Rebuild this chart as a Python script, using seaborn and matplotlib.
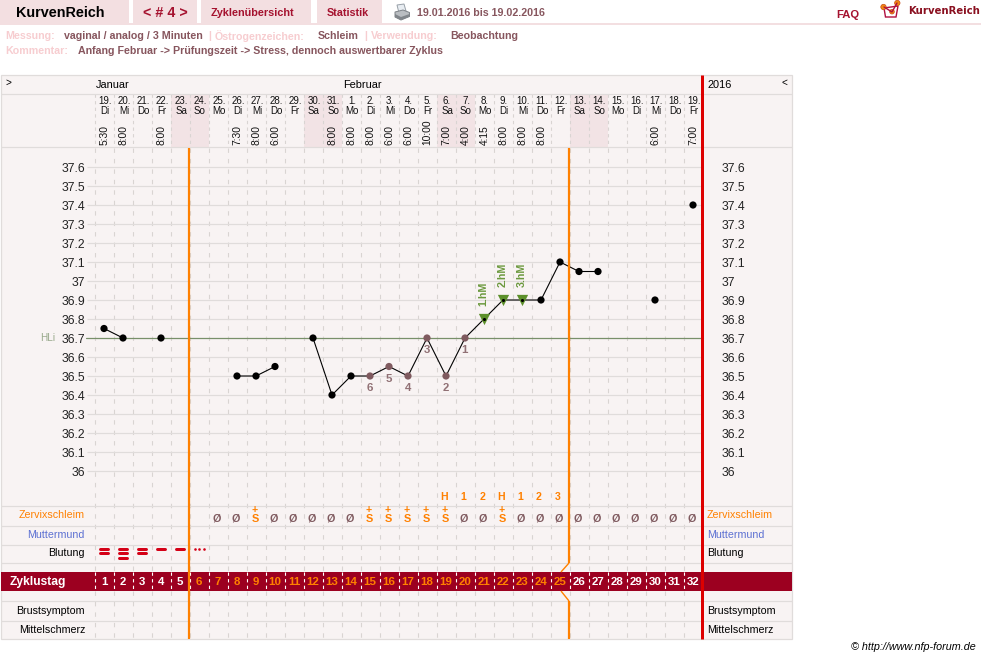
import matplotlib
matplotlib.use("Agg")
import matplotlib.pyplot as plt
from matplotlib.patches import Rectangle, Polygon, Circle
import pandas as pd
import seaborn as sns

# ---- cycle data -------------------------------------------------------
cycle_days = list(range(1, 33))
dates = ["19.", "20.", "21.", "22.", "23.", "24.", "25.", "26.", "27.", "28.", "29.", "30.", "31.",
         "1.", "2.", "3.", "4.", "5.", "6.", "7.", "8.", "9.", "10.", "11.", "12.", "13.", "14.",
         "15.", "16.", "17.", "18.", "19."]
weekdays = ["Di", "Mi", "Do", "Fr", "Sa", "So", "Mo", "Di", "Mi", "Do", "Fr", "Sa", "So",
            "Mo", "Di", "Mi", "Do", "Fr", "Sa", "So", "Mo", "Di", "Mi", "Do", "Fr", "Sa", "So",
            "Mo", "Di", "Mi", "Do", "Fr"]
times = ["5:30", "8:00", "", "8:00", "", "", "", "7:30", "8:00", "6:00", "", "", "8:00",
         "8:00", "8:00", "6:00", "6:00", "10:00", "7:00", "4:00", "4:15", "8:00", "8:00", "8:00", "",
         "", "", "", "", "6:00", "", "7:00"]
temp_days = [1, 2, 4, 8, 9, 10, 12, 13, 14, 15, 16, 17, 18, 19, 20, 21, 22, 23, 24, 25, 26, 27, 30, 32]
temp_values = [36.75, 36.7, 36.7, 36.5, 36.5, 36.55, 36.7, 36.4, 36.5, 36.5, 36.55, 36.5, 36.7,
               36.5, 36.7, 36.8, 36.9, 36.9, 36.9, 37.1, 37.05, 37.05, 36.9, 37.4]
temp_runs = [0, 0, 1, 2, 2, 2, 3, 3, 3, 3, 3, 3, 3, 3, 3, 3, 3, 3, 3, 3, 3, 3, 4, 5]
low_days = [20, 19, 18, 17, 16, 15]
low_labels = ["1", "2", "3", "4", "5", "6"]
high_days = [21, 22, 23]
high_labels = ["1.hM", "2.hM", "3.hM"]
cover_line = 36.7
temp_ticks = [36.0, 36.1, 36.2, 36.3, 36.4, 36.5, 36.6, 36.7, 36.8, 36.9,
              37.0, 37.1, 37.2, 37.3, 37.4, 37.5, 37.6]
temp_tick_labels = ["36", "36.1", "36.2", "36.3", "36.4", "36.5", "36.6", "36.7", "36.8", "36.9",
                    "37", "37.1", "37.2", "37.3", "37.4", "37.5", "37.6"]
weekend_days = [5, 6, 12, 13, 19, 20, 26, 27]
mucus_dry_days = [7, 8, 10, 11, 12, 13, 14, 20, 21, 23, 24, 25, 26, 27, 28, 29, 30, 31, 32]
mucus_plus_days = [9, 15, 16, 17, 18, 19, 22]
peak_days = [19, 20, 21, 22, 23, 24, 25]
peak_labels = ["H", "1", "2", "H", "1", "2", "3"]
bleeding_days = [1, 2, 3, 4, 5]
bleeding_strength = [2, 3, 2, 1, 1]
spotting_day = 6
first_phase_end = 5
second_phase_end = 25
row_names = ["Zervixschleim", "Muttermund", "Blutung", "Brustsymptom", "Mittelschmerz"]

# ---- palette ----------------------------------------------------------
PANEL = "#f8f3f3"
RULE = "#e0dcdb"
DASH = "#d9d4d2"
WEEKEND = "#f2e3e5"
TAB = "#f3dfe1"
DARKRED = "#9c0020"
TABTEXT = "#a5122f"
MUTED = "#87565e"
PALE = "#f7cdd0"
ORANGE = "#ff8000"
RED = "#dd0000"
LOW = "#7f5a5f"
GREEN = "#5c8f2a"
COVER = "#78906a"
BLUE = "#5c70d2"

sns.set_theme(style="white")
plt.rcParams["font.family"] = ["Liberation Sans", "DejaVu Sans"]

W, H = 981, 659
PX = 72 / 100  # points per pixel at 100 dpi
fig = plt.figure(figsize=(W / 100, H / 100), dpi=100, facecolor="white")

def px_rect(x0, y0, x1, y1):
    return [x0 / W, 1 - y1 / H, (x1 - x0) / W, (y1 - y0) / H]

# Page layer: pixel coordinates, used for the surrounding page furniture.
page = fig.add_axes([0, 0, 1, 1], zorder=0)
page.set_xlim(0, W)
page.set_ylim(H, 0)
page.axis("off")

DAY_W = 19.0
DAY1_X = 104.0
def day_x(d):
    return DAY1_X + (d - 1) * DAY_W

def txt(x, y, s, size=11, color="black", weight="normal", ha="left", va="center", **kw):
    return page.text(x, y, s, fontsize=size * PX, color=color, fontweight=weight, ha=ha, va=va, **kw)

# Top navigation strip
for x0, x1 in [(0, 129), (133, 197), (201, 311), (317, 382)]:
    page.add_patch(Rectangle((x0, 0), x1 - x0, 23, fc=TAB, ec="none"))
page.add_patch(Rectangle((0, 23), W, 2, fc=TAB, ec="none"))
txt(16, 13, "KurvenReich", 14.4, "black", "bold")
txt(143, 13, "< # 4 >", 14.3, TABTEXT, "bold")
txt(211, 12.5, "Zyklenübersicht", 10.9, TABTEXT, "bold")
txt(327, 12.5, "Statistik", 10.8, TABTEXT, "bold")
txt(417, 12.5, "19.01.2016 bis 19.02.2016", 10.6, MUTED, "bold")
txt(836, 15, "FAQ", 11.3, TABTEXT, "bold")
page.text(908, 10.5, "KurvenReich", fontsize=10.1 * PX, color="#8a1020", fontweight="bold",
          family="DejaVu Sans", ha="left", va="center")

# Printer icon
page.add_patch(Polygon([(397, 5), (404, 4), (406, 11), (399, 13)], fc="#e8edf2", ec="#98a0a8", lw=0.7))
page.add_patch(Polygon([(395, 12), (403, 10), (409.5, 12.5), (409.5, 16.5), (401, 20), (395, 17)],
                       fc="#b9bdc1", ec="#7d8287", lw=0.7))
page.add_patch(Polygon([(395, 14), (401, 17), (409.5, 14), (409.5, 16.5), (401, 20), (395, 17)],
                       fc="#80858a", ec="none"))

# Logo mark
page.add_patch(Polygon([(884, 8), (885.5, 17), (896, 17), (898, 6)], fc="white", ec="#b01040", lw=1.0))
page.plot([884, 892, 897], [7, 12, 3], color="#b01040", lw=1.0)
for cx, cy, r in [(883.5, 7, 2.7), (892, 11.7, 2.3), (897.3, 3, 2.7)]:
    page.add_patch(Circle((cx, cy), r, fc="#f08a10", ec="#c84a18", lw=0.5))

# Measurement summary lines
for x, s in [(5, "Messung:"), (208, "|"), (215, "Östrogenzeichen:"), (364, "|"), (371, "Verwendung:")]:
    txt(x, 36, s, 10.6, PALE, "bold")
for x, s in [(64, "vaginal / analog / 3 Minuten"), (318, "Schleim"), (450, "Beobachtung")]:
    txt(x, 36, s, 10.6, MUTED, "bold")
txt(5, 51, "Kommentar:", 10.6, PALE, "bold")
txt(78, 51, "Anfang Februar -> Prüfungszeit -> Stress, dennoch auswertbarer Zyklus", 10.6, MUTED, "bold")
txt(976, 647, "© http://www.nfp-forum.de", 10.7, "black", ha="right", style="italic")

# Panel, row rules and the cycle-day band
page.add_patch(Rectangle((1, 75), 791, 564, fc=PANEL, ec=RULE, lw=0.9))
for d in weekend_days:
    page.add_patch(Rectangle((day_x(d) - DAY_W / 2, 94), DAY_W, 53, fc=WEEKEND, ec="none"))
for y in [93.5, 147, 506, 525.5, 544.5, 563, 601, 620.5]:
    page.plot([1, 792], [y, y], color=RULE, lw=1.2 * PX, solid_capstyle="butt")
page.add_patch(Rectangle((1, 572), 791, 19, fc=DARKRED, ec="none", zorder=2))

# Dashed day separators through header, chart and rows
for d in cycle_days[:-1] + [0]:
    x = day_x(d) + DAY_W / 2
    page.plot([x, x], [94, 147], color=DASH, lw=1.1 * PX, ls=(0, (3, 3)), zorder=1.2)
    page.plot([x, x], [148, 572], color=DASH, lw=1.1 * PX, ls=(0, (4, 5.5)), zorder=1.2)
    page.plot([x, x], [572, 591], color="white", lw=1.1 * PX, ls=(0, (3, 3)), zorder=2.2)
    page.plot([x, x], [591, 639], color=DASH, lw=1.1 * PX, ls=(0, (4, 5.5)), zorder=1.2)

# Header texts
txt(5, 83, ">", 10)
txt(96, 85, "Januar", 11)
txt(343, 85, "Februar", 11)
txt(707, 85, "2016", 11)
txt(787, 83, "<", 10, ha="right")
for d, a, b, c in zip(cycle_days, dates, weekdays, times):
    x = day_x(d) + 1
    txt(x, 101.5, a, 9.8, "#111111", ha="center")
    txt(x, 111.5, b, 9.8, "#111111", ha="center")
    if c:
        page.text(x - 0.5, 145, c, fontsize=10.3 * PX, color="#111111", rotation=90,
                  ha="center", va="bottom")

# Row captions on both sides
captions = dict(zip(row_names, [(515, ORANGE), (534, BLUE), (553, "black"), (610, "black"), (629.5, "black")]))
for name, (y, col) in captions.items():
    txt(85, y + 0.5, name, 10.6, col, ha="right")
    txt(707, y + 0.5, name, 10.6, col)
txt(10, 582, "Zyklustag", 12, "white", "bold", zorder=3)

# Cycle day numbers inside the band
for d in cycle_days:
    col = ORANGE if first_phase_end < d <= second_phase_end else "white"
    txt(day_x(d), 582, str(d), 11.5, col, "bold", ha="center", zorder=3)

# Mucus row and peak counting row
for d in mucus_dry_days:
    txt(day_x(d) - 1, 518, "Ø", 10.8, LOW, "bold", ha="center")
for d in mucus_plus_days:
    txt(day_x(d) - 1, 519, "S", 11, ORANGE, "bold", ha="center")
    txt(day_x(d) - 1, 509.5, "+", 10.5, ORANGE, "bold", ha="center")
for d, s in zip(peak_days, peak_labels):
    txt(day_x(d) - 2, 497, s, 10.5, ORANGE, "bold", ha="center")

# Bleeding row: one stroke per intensity step, dots for spotting
for d, n in zip(bleeding_days, bleeding_strength):
    for i in range(n):
        y = 549 + i * 4.3
        page.plot([day_x(d) - 4, day_x(d) + 4], [y, y], color="#d40016", lw=3 * PX,
                  solid_capstyle="round")
page.scatter([day_x(spotting_day) - 4.5, day_x(spotting_day), day_x(spotting_day) + 4.5], [549.3] * 3,
             s=3.5, color="#d40016", linewidths=0)

# ---- temperature chart: axes aligned with the day columns ------------
ax = fig.add_axes(px_rect(94.5, 148, 702.5, 506), zorder=2)
ax.patch.set_alpha(0)
ax.set_xlim(0.5, 32.5)
ax.set_ylim(36 - 35 / 190, 36 + 323 / 190)
for s in ax.spines.values():
    s.set_visible(False)
ax.set_xticks([])
ax.set_yticks(temp_ticks)
ax.set_yticklabels(temp_tick_labels)
ax.tick_params(axis="y", left=True, length=8.5 * PX, width=1.2 * PX, color=RULE, pad=0.8,
               labelsize=12.2 * PX, labelcolor="#222222")
ax.yaxis.grid(True, color=RULE, lw=1.2 * PX)
ax.xaxis.grid(False)
ax.set_axisbelow(True)

axr = ax.twinx()
axr.set_ylim(ax.get_ylim())
axr.patch.set_alpha(0)
for s in axr.spines.values():
    s.set_visible(False)
axr.set_yticks(temp_ticks)
axr.set_yticklabels(temp_tick_labels)
axr.tick_params(axis="y", right=True, length=0, pad=19.5 * PX, labelsize=12.2 * PX, labelcolor="#222222")
axr.grid(False)

# Cover line, extending a little left of the first column
ax.plot([0.5 - 8.5 / DAY_W, 32.5], [cover_line, cover_line], color=COVER, lw=1.2 * PX, clip_on=False, zorder=1.5)
txt(40, 338, "HLi", 10, "#98a88a")

temps = pd.DataFrame({"day": temp_days, "temp": temp_values, "run": temp_runs})
temps["kind"] = ["low" if d in low_days else "high" if d in high_days else "normal" for d in temp_days]

sns.lineplot(data=temps, x="day", y="temp", units="run", estimator=None, color="black",
             linewidth=1.1 * PX, ax=ax, legend=False, zorder=2)
sns.scatterplot(data=temps[temps.kind != "high"], x="day", y="temp", hue="kind",
                palette={"normal": "black", "low": LOW}, s=27, linewidth=0, ax=ax, legend=False, zorder=3)
high = temps[temps.kind == "high"]
sns.scatterplot(data=high, x="day", y="temp", marker="v", color=GREEN, s=66, linewidth=0, ax=ax,
                legend=False, zorder=3)
sns.scatterplot(data=high, x="day", y="temp", color="black", s=5, linewidth=0, ax=ax, legend=False, zorder=4)
ax.set_xlabel("")
ax.set_ylabel("")

lookup = dict(zip(temp_days, temp_values))
for d, s in zip(low_days, low_labels):
    ax.annotate(s, (d, lookup[d]), xytext=(0, -12 * PX), textcoords="offset points", ha="center", va="center",
                fontsize=11.5 * PX, color=LOW, fontweight="bold", alpha=0.85)
for d, s in zip(high_days, high_labels):
    ax.annotate(s, (d, lookup[d]), xytext=(-0.5 * PX, 13.5 * PX), textcoords="offset points", ha="center", va="bottom",
                rotation=90, fontsize=10.6 * PX, color=GREEN, fontweight="bold", alpha=0.9)

# Phase boundaries and the end-of-cycle marker sit above all other marks
over = fig.add_axes([0, 0, 1, 1], zorder=3)
over.set_xlim(0, W)
over.set_ylim(H, 0)
over.axis("off")
over.patch.set_alpha(0)
x1 = day_x(first_phase_end) + DAY_W / 2 - 0.5
x2 = day_x(second_phase_end) + DAY_W / 2 - 0.5
xe = day_x(32) + DAY_W / 2 - 0.5
over.plot([x1, x1], [148, 639], color=ORANGE, lw=2.2 * PX, solid_capstyle="butt")
over.plot([x2, x2], [148, 563], color=ORANGE, lw=2.2 * PX, solid_capstyle="butt")
over.plot([x2, x2 - 8], [563, 572], color=ORANGE, lw=1.4 * PX, solid_capstyle="butt")
over.plot([x2 - 8, x2], [591, 601], color=ORANGE, lw=1.4 * PX, solid_capstyle="butt")
over.plot([x2, x2], [601, 639], color=ORANGE, lw=2.2 * PX, solid_capstyle="butt")
over.plot([xe, xe], [75, 639], color=RED, lw=3 * PX, solid_capstyle="butt")

fig.savefig("out.png", dpi=100, facecolor="white")
